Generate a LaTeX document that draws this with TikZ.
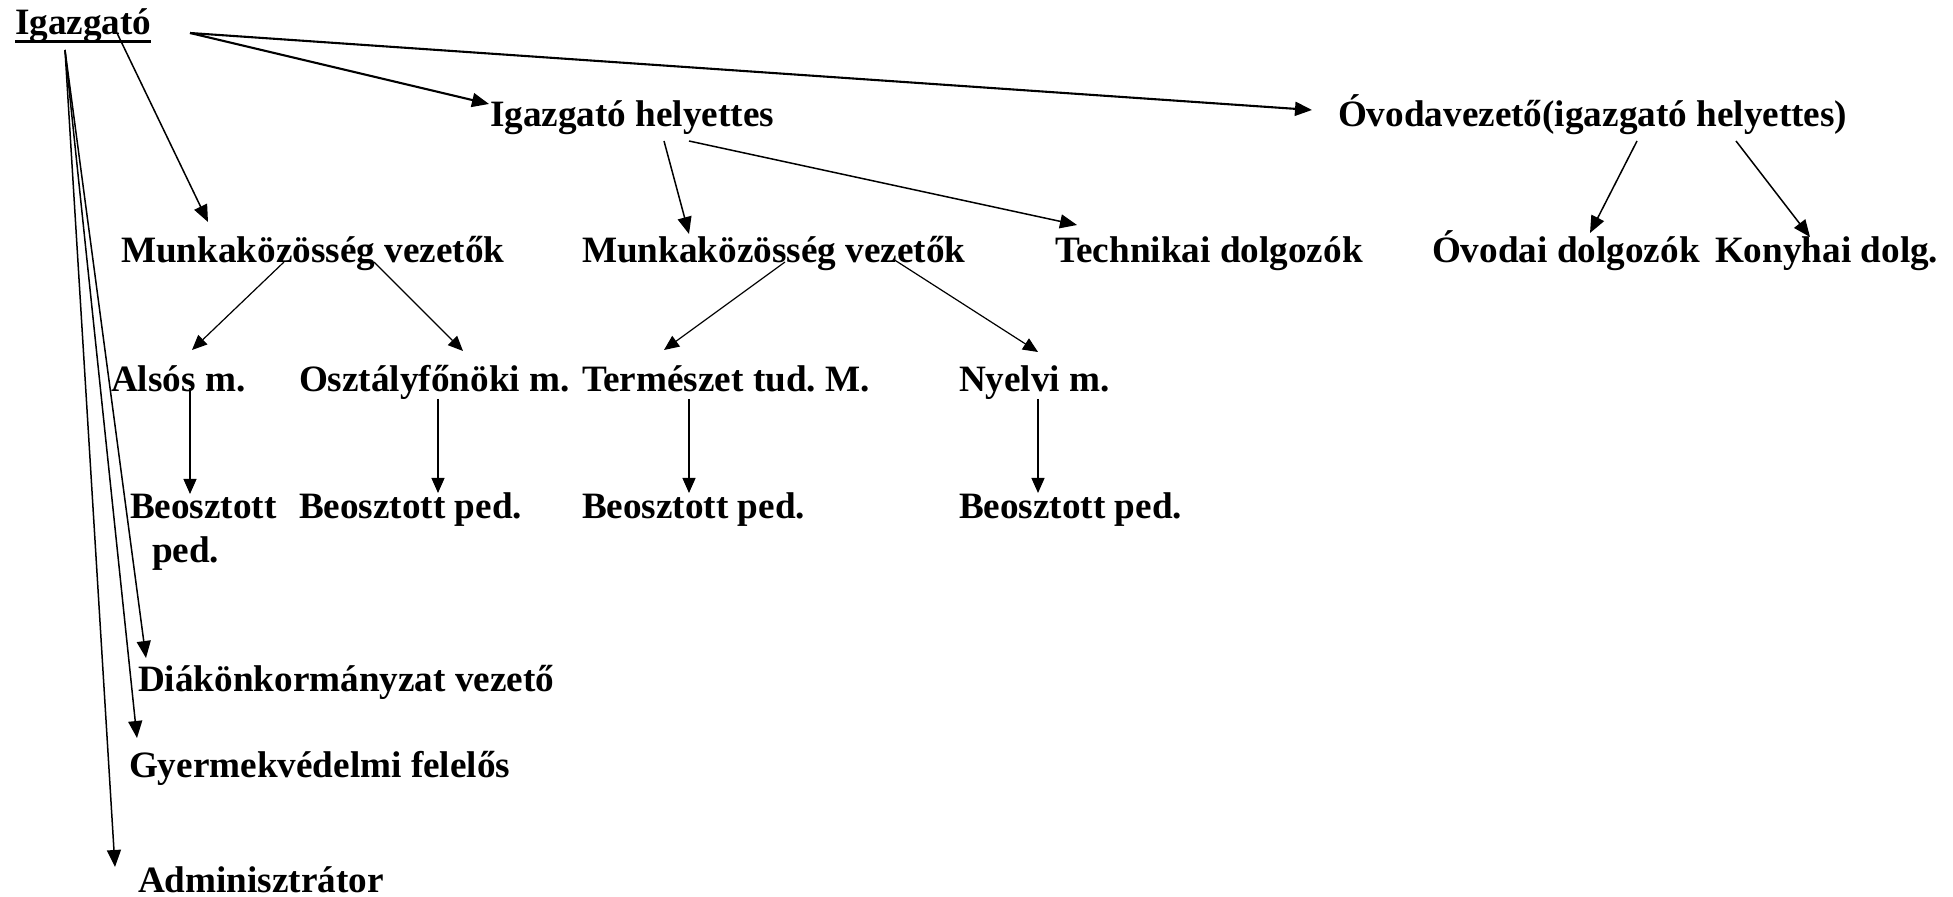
\documentclass[tikz,border=0pt]{standalone}
\usepackage{fontspec}
\setmainfont{Liberation Serif}
\usetikzlibrary{arrows.meta}
\frenchspacing
\begin{document}
\begin{tikzpicture}[x=0.5pt,y=-0.5pt,
  lbl/.style={anchor=base west,inner sep=0pt,outer sep=0pt,font=\fontsize{18.6pt}{22pt}\selectfont\bfseries},
  conn/.style={-{Triangle[length=8.5pt,width=7pt]},line width=0.75pt},
  connthick/.style={conn,line width=1.05pt},
  connthin/.style={conn,line width=0.6pt,-{Triangle[length=7.5pt,width=6.5pt]}}]
\useasboundingbox (0,0) rectangle (1953,897);
% nodes
\node[lbl] (ig) at (15,35) {Igazgató};
\draw[line width=1.5pt] ([yshift=-3.5pt]ig.base west) -- ([yshift=-3.5pt]ig.base east);
\node[lbl] (ih) at (490,127) {Igazgató helyettes};
\node[lbl] (ov) at (1338,127) {Óvodavezető(igazgató helyettes)};
\node[lbl] (mv1) at (121,263) {Munkaközösség vezetők};
\node[lbl] (mv2) at (582,263) {Munkaközösség vezetők};
\node[lbl] (tech) at (1055,263) {Technikai dolgozók};
\node[lbl] (ovd) at (1432,263) {Óvodai dolgozók};
\node[lbl] (kony) at (1715,263) {Konyhai dolg.};
\node[lbl] (als) at (111,392) {Alsós m.};
\node[lbl] (osz) at (299,392) {Osztályfőnöki m.};
\node[lbl] (ter) at (582,392) {Természet tud. M.};
\node[lbl] (nye) at (959,392) {Nyelvi m.};
\node[lbl] (b1) at (130,519) {Beosztott};
\node[lbl] (b1p) at (152,562) {ped.};
\node[lbl] (b2) at (299,519) {Beosztott ped.};
\node[lbl] (b3) at (582,519) {Beosztott ped.};
\node[lbl] (b4) at (959,519) {Beosztott ped.};
\node[lbl] (diak) at (138,691) {Diákönkormányzat vezető};
\node[lbl] (gyer) at (129,777) {Gyermekvédelmi felelős};
\node[lbl] (adm) at (138,892) {Adminisztrátor};
% connector end points
\coordinate (ig-r) at (190,33);
\coordinate (ig-m) at (117,33);
\coordinate (ig-l) at (65,50);
\coordinate (ih-in) at (489,104);
\coordinate (ov-in) at (1312,110);
\coordinate (mv1-in) at (208,222);
\coordinate (diak-in) at (146,658);
\coordinate (gyer-in) at (137,738);
\coordinate (adm-in) at (115,867);
\coordinate (ih-o1) at (664,141);
\coordinate (ih-o2) at (689,141);
\coordinate (mv2-in) at (689,234);
\coordinate (tech-in) at (1077,225);
\coordinate (ov-o1) at (1637,141);
\coordinate (ov-o2) at (1736,141);
\coordinate (ovd-in) at (1590,233);
\coordinate (kony-in) at (1810,237);
\coordinate (mv1-o1) at (284,262);
\coordinate (mv1-o2) at (374,262);
\coordinate (mv2-o1) at (785,262);
\coordinate (mv2-o2) at (893,259);
\coordinate (als-in) at (192,350);
\coordinate (osz-in) at (463,351);
\coordinate (ter-in) at (664,350);
\coordinate (nye-in) at (1038,352);
\coordinate (als-o) at (190,388);
\coordinate (osz-o) at (438,399);
\coordinate (ter-o) at (689,399);
\coordinate (nye-o) at (1038,399);
\coordinate (b1-in) at (190,494);
\coordinate (b2-in) at (438,493);
\coordinate (b3-in) at (689,493);
\coordinate (b4-in) at (1038,493);
% connectors
\draw[connthick] (ig-r) -- (ih-in);
\draw[connthick] (ig-r) -- (ov-in);
\draw[conn] (ig-m) -- (mv1-in);
\draw[conn] (ig-l) -- (diak-in);
\draw[conn] (ig-l) -- (gyer-in);
\draw[conn] (ig-l) -- (adm-in);
\draw[conn] (ih-o1) -- (mv2-in);
\draw[conn] (ih-o2) -- (tech-in);
\draw[conn] (ov-o1) -- (ovd-in);
\draw[conn] (ov-o2) -- (kony-in);
\draw[connthin] (mv1-o1) -- (als-in);
\draw[connthin] (mv1-o2) -- (osz-in);
\draw[connthin] (mv2-o1) -- (ter-in);
\draw[connthin] (mv2-o2) -- (nye-in);
\draw[connthin] (als-o) -- (b1-in);
\draw[connthin] (osz-o) -- (b2-in);
\draw[connthin] (ter-o) -- (b3-in);
\draw[connthin] (nye-o) -- (b4-in);
\end{tikzpicture}
\end{document}
